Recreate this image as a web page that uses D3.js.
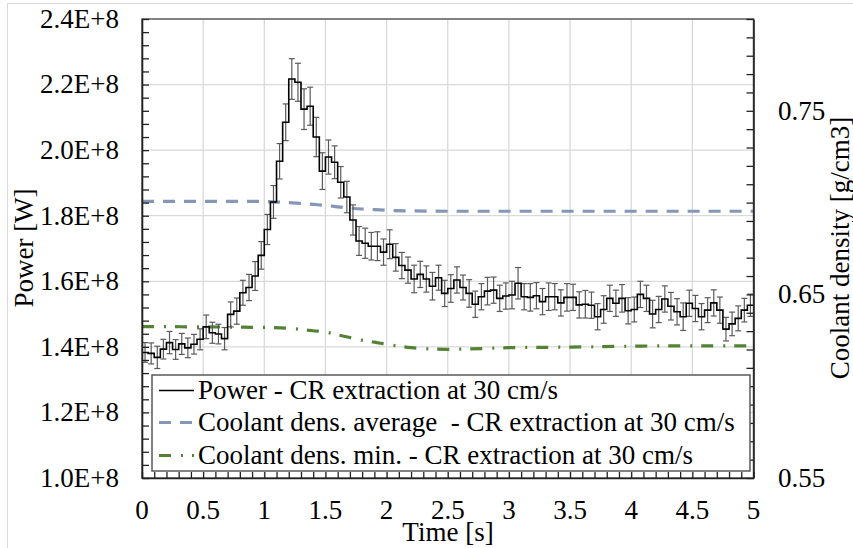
<!DOCTYPE html>
<html>
<head>
<meta charset="utf-8">
<script src="https://cdn.jsdelivr.net/npm/d3@7"></script>
<style>
  html, body { margin: 0; padding: 0; background: #fff; }
  svg { display: block; }
</style>
</head>
<body>
<svg id="chart" width="853" height="548"></svg>
<script>
// Power during control-rod extraction at 30 cm/s (time-binned, 0.05 s bins, value in W)
const powerTime = d3.range(100).map(i => +(0.025 + 0.05 * i).toFixed(3));
const powerValue = [
  1.383, 1.380, 1.368, 1.393, 1.413, 1.392, 1.409, 1.397, 1.408, 1.423,
  1.461, 1.443, 1.439, 1.425, 1.499, 1.509, 1.565, 1.581, 1.616, 1.679,
  1.758, 1.842, 1.966, 2.085, 2.217, 2.207, 2.125, 2.134, 2.040, 1.936,
  1.979, 1.963, 1.902, 1.857, 1.787, 1.723, 1.716, 1.707, 1.707, 1.689,
  1.713, 1.673, 1.648, 1.634, 1.607, 1.621, 1.607, 1.585, 1.611, 1.563,
  1.578, 1.604, 1.581, 1.563, 1.530, 1.553, 1.570, 1.573, 1.548, 1.555,
  1.558, 1.594, 1.553, 1.551, 1.556, 1.538, 1.553, 1.553, 1.534, 1.551,
  1.551, 1.528, 1.530, 1.527, 1.492, 1.514, 1.548, 1.533, 1.548, 1.510,
  1.514, 1.560, 1.548, 1.500, 1.514, 1.546, 1.524, 1.507, 1.492, 1.533,
  1.517, 1.492, 1.512, 1.534, 1.512, 1.454, 1.470, 1.487, 1.512, 1.527
].map(v => v * 1e8);
// Statistical uncertainty of each power bin (W)
const powerError = [
  0.030, 0.032, 0.034, 0.030, 0.034, 0.030, 0.032, 0.030, 0.030, 0.032,
  0.036, 0.032, 0.030, 0.034, 0.038, 0.040, 0.038, 0.040, 0.044, 0.042,
  0.046, 0.050, 0.054, 0.056, 0.062, 0.058, 0.062, 0.058, 0.060, 0.056,
  0.052, 0.050, 0.048, 0.048, 0.046, 0.044, 0.046, 0.042, 0.044, 0.040,
  0.044, 0.042, 0.040, 0.040, 0.042, 0.040, 0.040, 0.042, 0.038, 0.040,
  0.042, 0.040, 0.038, 0.042, 0.040, 0.040, 0.042, 0.040, 0.040, 0.040,
  0.042, 0.048, 0.040, 0.042, 0.040, 0.040, 0.042, 0.040, 0.040, 0.042,
  0.040, 0.040, 0.042, 0.040, 0.040, 0.042, 0.040, 0.040, 0.042, 0.040,
  0.038, 0.040, 0.040, 0.042, 0.040, 0.040, 0.042, 0.040, 0.042, 0.040,
  0.040, 0.040, 0.038, 0.040, 0.040, 0.036, 0.036, 0.038, 0.036, 0.034
].map(v => v * 1e8);

// Coolant density (g/cm3)
const avgDensTime  = [0, 0.5, 1.0, 1.1, 1.2, 1.3, 1.4, 1.5, 1.6, 1.7, 1.8, 1.9, 2.0, 2.2, 2.5, 3.0, 3.5, 4.0, 4.5, 5.0];
const avgDensValue = [0.7007, 0.7007, 0.7006, 0.7003, 0.7000, 0.6995, 0.6990, 0.6985, 0.6977, 0.6970,
                      0.6965, 0.6962, 0.6958, 0.6955, 0.6953, 0.6953, 0.6953, 0.6953, 0.6953, 0.6953];
const minDensTime  = [0, 0.5, 1.0, 1.2, 1.4, 1.5, 1.6, 1.7, 1.8, 1.9, 2.0, 2.2, 2.5, 2.8, 3.0, 3.5, 4.0, 4.5, 5.0];
const minDensValue = [0.6325, 0.6323, 0.6320, 0.6315, 0.6302, 0.6295, 0.6280, 0.6265, 0.6250, 0.6240,
                      0.6228, 0.6210, 0.6201, 0.6205, 0.6210, 0.6213, 0.6218, 0.6220, 0.6220];

// Axis ticks
const xTicks = [0, 0.5, 1, 1.5, 2, 2.5, 3, 3.5, 4, 4.5, 5];
const powerTicks = [1.0e8, 1.2e8, 1.4e8, 1.6e8, 1.8e8, 2.0e8, 2.2e8, 2.4e8];
const densTicks = [0.55, 0.65, 0.75];

const legendLabels = [
  "Power - CR extraction at 30 cm/s",
  "Coolant dens. average  - CR extraction at 30 cm/s",
  "Coolant dens. min. - CR extraction at 30 cm/s"
];

const W = 853, H = 548;
const plot = { left: 142, right: 753.5, top: 19, bottom: 478 };
const FONT = 27;
const FAMILY = "'Liberation Serif', Tinos, 'Times New Roman', 'DejaVu Serif', serif";

const svg = d3.select("#chart").attr("font-family", FAMILY);

const x = d3.scaleLinear().domain([0, 5]).range([plot.left, plot.right]);
const yP = d3.scaleLinear().domain([1.0e8, 2.4e8]).range([plot.bottom, plot.top]);
const yD = d3.scaleLinear().domain([0.55, 0.80]).range([plot.bottom, plot.top]);

// outer chart frame
svg.append("rect")
  .attr("x", 7.5).attr("y", 3.5).attr("width", W).attr("height", H)
  .attr("fill", "none").attr("stroke", "#d9d9d9").attr("stroke-width", 1);

// gridlines
const grid = svg.append("g").attr("stroke", "#d9d9d9").attr("stroke-width", 1.3);
grid.selectAll("line.v").data(xTicks.slice(1, -1)).join("line")
  .attr("x1", d => x(d)).attr("x2", d => x(d))
  .attr("y1", plot.top).attr("y2", plot.bottom);
grid.selectAll("line.h").data(powerTicks.slice(1, -1)).join("line")
  .attr("x1", plot.left).attr("x2", plot.right)
  .attr("y1", d => yP(d)).attr("y2", d => yP(d));

// coolant density lines (secondary axis)
const densLine = d3.line().x(d => x(d[0])).y(d => yD(d[1])).curve(d3.curveMonotoneX);
svg.append("path")
  .datum(avgDensTime.map((t, i) => [t, avgDensValue[i]]))
  .attr("d", densLine).attr("fill", "none")
  .attr("stroke", "#8497b6").attr("stroke-width", 3.2)
  .attr("stroke-dasharray", "12,9");
svg.append("path")
  .datum(minDensTime.map((t, i) => [t, minDensValue[i]]))
  .attr("d", densLine).attr("fill", "none")
  .attr("stroke", "#548235").attr("stroke-width", 3.2)
  .attr("stroke-dasharray", "12,10,2,9");

// power error bars
const pts = powerTime.map((t, i) => ({ t, v: powerValue[i], e: powerError[i] }));
const eb = svg.append("g").attr("stroke", "#5a5a5a").attr("stroke-width", 1.2);
eb.selectAll("line.bar").data(pts).join("line")
  .attr("x1", d => x(d.t)).attr("x2", d => x(d.t))
  .attr("y1", d => yP(d.v - d.e)).attr("y2", d => yP(d.v + d.e));
eb.selectAll("line.capT").data(pts).join("line")
  .attr("x1", d => x(d.t) - 3).attr("x2", d => x(d.t) + 3)
  .attr("y1", d => yP(d.v + d.e)).attr("y2", d => yP(d.v + d.e));
eb.selectAll("line.capB").data(pts).join("line")
  .attr("x1", d => x(d.t) - 3).attr("x2", d => x(d.t) + 3)
  .attr("y1", d => yP(d.v - d.e)).attr("y2", d => yP(d.v - d.e));

// power step line, held flat out to both ends of the time axis
const stepData = [{ t: 0, v: pts[0].v }, ...pts, { t: 5, v: pts[pts.length - 1].v }];
svg.append("path")
  .datum(stepData)
  .attr("d", d3.line().x(d => x(d.t)).y(d => yP(d.v)).curve(d3.curveStep))
  .attr("fill", "none").attr("stroke", "#000").attr("stroke-width", 1.6);

// plot frame
svg.append("rect")
  .attr("x", plot.left).attr("y", plot.top)
  .attr("width", plot.right - plot.left).attr("height", plot.bottom - plot.top)
  .attr("fill", "none").attr("stroke", "#595959").attr("stroke-width", 1.5);

// axes with inward minor ticks
const axisStyle = g => {
  g.select(".domain").attr("stroke", "#222").attr("stroke-width", 1.6);
  g.selectAll(".tick line").attr("stroke", "#222").attr("stroke-width", 1.3);
  g.selectAll("text").remove();
};
svg.append("g").attr("transform", `translate(${plot.left},0)`)
  .call(d3.axisRight(yP).tickValues(d3.range(100, 241, 4).map(v => v * 1e6)).tickSize(7).tickSizeOuter(0))
  .call(axisStyle);
svg.append("g").attr("transform", `translate(${plot.right},0)`)
  .call(d3.axisLeft(yD).tickValues(d3.range(55, 81).map(v => v / 100)).tickSize(7).tickSizeOuter(0))
  .call(axisStyle);
svg.append("g").attr("transform", `translate(0,${plot.bottom})`)
  .call(d3.axisTop(x).tickValues(d3.range(0, 51).map(v => v / 10)).tickSize(6).tickSizeOuter(0))
  .call(axisStyle);

const txt = sel => sel.attr("font-family", FAMILY).attr("font-size", FONT).attr("fill", "#000");

// tick labels
svg.append("g").selectAll("text").data(powerTicks).join("text").call(txt)
  .attr("x", 119).attr("y", d => yP(d)).attr("dy", "0.33em")
  .attr("text-anchor", "end")
  .text(d => (d / 1e8).toFixed(1) + "E+8");
svg.append("g").selectAll("text").data(xTicks).join("text").call(txt)
  .attr("x", d => x(d)).attr("y", 519)
  .attr("text-anchor", "middle")
  .text(d => d3.format("~g")(d));
svg.append("g").selectAll("text").data(densTicks).join("text").call(txt)
  .attr("x", 778).attr("y", d => yD(d)).attr("dy", "0.33em")
  .text(d => d.toFixed(2));

// axis titles
svg.append("text").call(txt)
  .attr("transform", "translate(24,248) rotate(-90)")
  .attr("dy", "0.33em").attr("text-anchor", "middle")
  .text("Power [W]");
svg.append("text").call(txt)
  .attr("x", 448).attr("y", 541).attr("text-anchor", "middle")
  .text("Time [s]");
svg.append("text").call(txt)
  .attr("transform", "translate(840,248) rotate(-90)")
  .attr("dy", "0.33em").attr("text-anchor", "middle")
  .text("Coolant density [g/cm3]");

// legend
const lg = svg.append("g");
lg.append("rect")
  .attr("x", 152).attr("y", 375).attr("width", 598).attr("height", 96)
  .attr("fill", "#fff").attr("stroke", "#595959").attr("stroke-width", 1.5);
const legendStyles = [
  { stroke: "#000", width: 1.6, dash: null },
  { stroke: "#8497b6", width: 3.2, dash: "12,9" },
  { stroke: "#548235", width: 3.2, dash: "12,10,2,9" }
];
const rowY = [390.5, 422.5, 455.5];
legendLabels.forEach((label, i) => {
  lg.append("line")
    .attr("x1", 159).attr("x2", 194).attr("y1", rowY[i]).attr("y2", rowY[i])
    .attr("stroke", legendStyles[i].stroke).attr("stroke-width", legendStyles[i].width)
    .attr("stroke-dasharray", legendStyles[i].dash);
  lg.append("text").call(txt)
    .attr("x", 198).attr("y", rowY[i] + 8.5)
    .style("white-space", "pre")
    .text(label);
});
</script>
</body>
</html>
